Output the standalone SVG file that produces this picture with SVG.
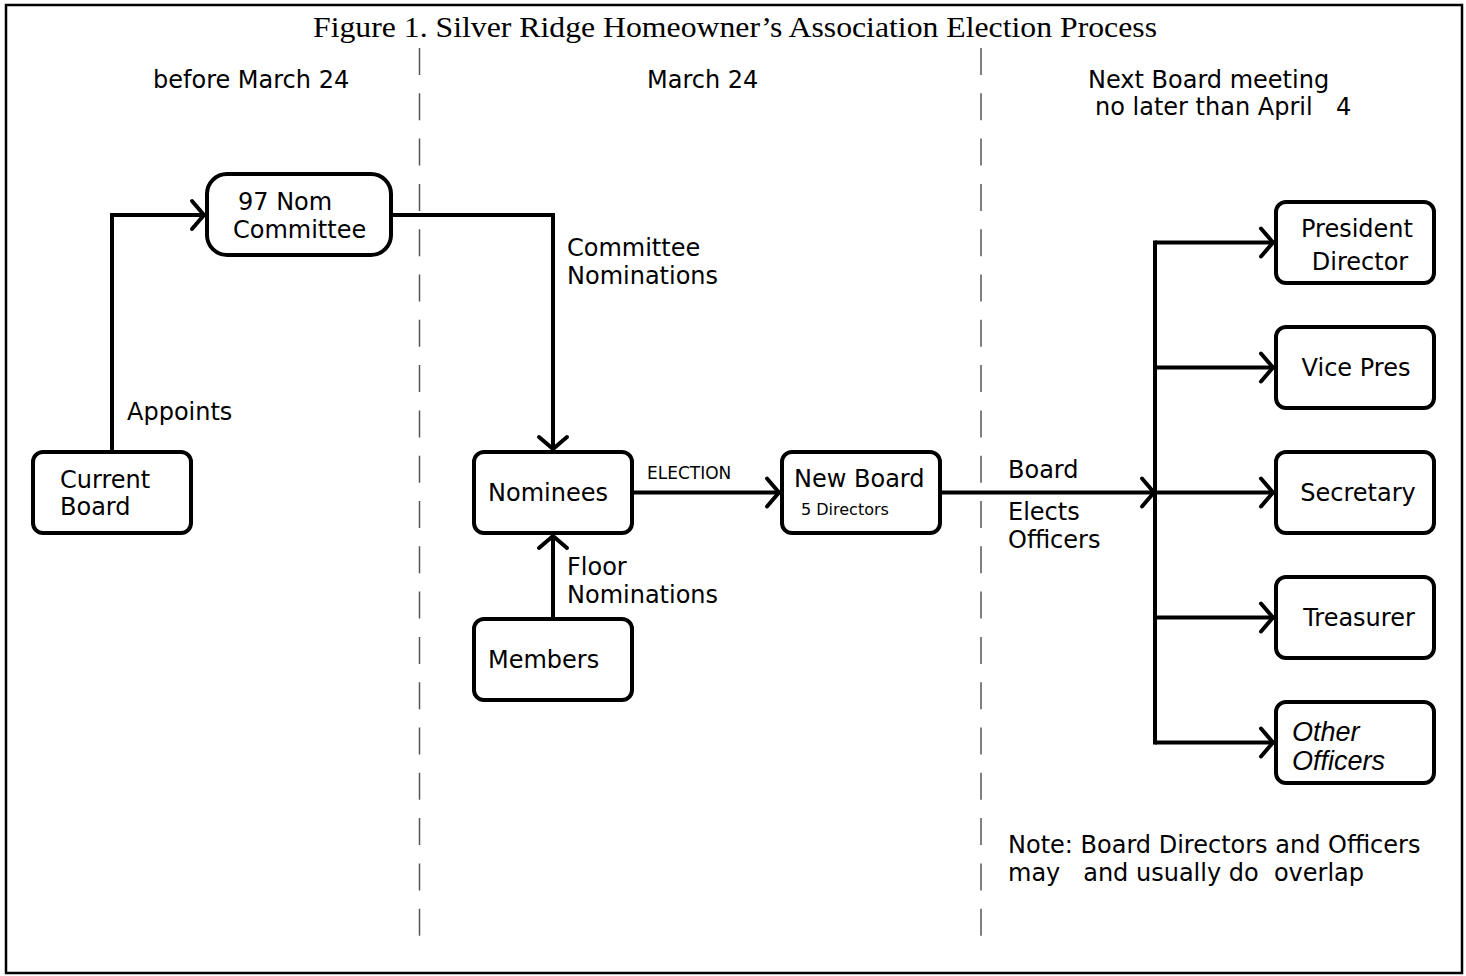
<svg xmlns="http://www.w3.org/2000/svg" width="1466" height="976" viewBox="0 0 1466 976">
<defs>
<style>
.t{font-family:"DejaVu Sans",Verdana,sans-serif;font-size:24px;fill:#000;white-space:pre}
.sm{font-size:17px}
.xs{font-size:16px}
.it{font-family:"Liberation Sans",Arial,sans-serif;font-style:italic;font-size:27px}
.title{font-family:"Liberation Serif","Times New Roman",serif;font-size:30px;fill:#000}
.box{fill:#fff;stroke:#000;stroke-width:4}
.c{fill:none;stroke:#000;stroke-width:4}
.dash{fill:none;stroke:#555;stroke-width:1.5;stroke-dasharray:27 18.3}
</style>
<marker id="arr" markerUnits="userSpaceOnUse" viewBox="-18 -18 22 36" refX="0" refY="0" markerWidth="22" markerHeight="36" orient="auto">
<path d="M-13,-14 L-1,0 L-13,14" fill="none" stroke="#000" stroke-width="4" stroke-linecap="round" stroke-linejoin="round"/>
</marker>
</defs>
<rect x="6" y="5" width="1456" height="968" fill="#fff" stroke="#000" stroke-width="2.5"/>
<text class="title" x="735" y="37" text-anchor="middle" textLength="844" lengthAdjust="spacingAndGlyphs">Figure 1. Silver Ridge Homeowner’s Association Election Process</text>
<g id="dividers">
<line class="dash" x1="419.5" y1="48" x2="419.5" y2="940"/>
<line class="dash" x1="981" y1="48" x2="981" y2="940"/>
</g>
<g id="headers">
<text class="t" x="153" y="88">before March 24</text>
<text class="t" x="647" y="88">March 24</text>
<text class="t" x="1088" y="88">Next Board meeting</text>
<text class="t" x="1095" y="115">no later than April<tspan x="1336">4</tspan></text>
</g>
<g id="connectors">
<path class="c" d="M112,450 V215 H205" marker-end="url(#arr)"/>
<path class="c" d="M393,215 H553 V450" marker-end="url(#arr)"/>
<path class="c" d="M553,617 V535" marker-end="url(#arr)"/>
<path class="c" d="M634,492.5 H780" marker-end="url(#arr)"/>
<path class="c" d="M942,492.5 H1155" marker-end="url(#arr)"/>
<path class="c" d="M1155,240.5 V744.5"/>
<path class="c" d="M1155,242.5 H1274" marker-end="url(#arr)"/>
<path class="c" d="M1155,367.5 H1274" marker-end="url(#arr)"/>
<path class="c" d="M1155,492.5 H1274" marker-end="url(#arr)"/>
<path class="c" d="M1155,617.5 H1274" marker-end="url(#arr)"/>
<path class="c" d="M1155,742.5 H1274" marker-end="url(#arr)"/>
<text class="t" x="127" y="420">Appoints</text>
<text class="t" x="567" y="256">Committee</text>
<text class="t" x="567" y="284">Nominations</text>
<text class="t" x="567" y="575">Floor</text>
<text class="t" x="567" y="603">Nominations</text>
<text class="t sm" x="647" y="479">ELECTION</text>
<text class="t" x="1008" y="478">Board</text>
<text class="t" x="1008" y="520">Elects</text>
<text class="t" x="1008" y="548">Officers</text>
</g>
<g id="current-board">
<rect class="box" x="33" y="452" width="158" height="81" rx="10"/>
<text class="t" x="60" y="488">Current</text>
<text class="t" x="60" y="515">Board</text>
</g>
<g id="nom-committee">
<rect class="box" x="207" y="174" width="184" height="81" rx="20"/>
<text class="t" x="238" y="210">97 Nom</text>
<text class="t" x="233" y="238">Committee</text>
</g>
<g id="nominees">
<rect class="box" x="474" y="452" width="158" height="81" rx="10"/>
<text class="t" x="488" y="501">Nominees</text>
</g>
<g id="members">
<rect class="box" x="474" y="619" width="158" height="81" rx="10"/>
<text class="t" x="488" y="668">Members</text>
</g>
<g id="new-board">
<rect class="box" x="782" y="452" width="158" height="81" rx="10"/>
<text class="t" x="794" y="487">New Board</text>
<text class="t xs" x="801" y="515">5 Directors</text>
</g>
<g id="president">
<rect class="box" x="1276" y="202" width="158" height="81" rx="10"/>
<text class="t" x="1357" y="237" text-anchor="middle">President</text>
<text class="t" x="1360" y="270" text-anchor="middle">Director</text>
</g>
<g id="vice-pres">
<rect class="box" x="1276" y="327" width="158" height="81" rx="10"/>
<text class="t" x="1356" y="376" text-anchor="middle">Vice Pres</text>
</g>
<g id="secretary">
<rect class="box" x="1276" y="452" width="158" height="81" rx="10"/>
<text class="t" x="1358" y="501" text-anchor="middle">Secretary</text>
</g>
<g id="treasurer">
<rect class="box" x="1276" y="577" width="158" height="81" rx="10"/>
<text class="t" x="1359" y="626" text-anchor="middle">Treasurer</text>
</g>
<g id="other-officers">
<rect class="box" x="1276" y="702" width="158" height="81" rx="10"/>
<text class="t it" x="1292" y="741">Other</text>
<text class="t it" x="1292" y="770">Officers</text>
</g>
<g id="note">
<text class="t" x="1008" y="853">Note: Board Directors and Officers</text>
<text class="t" x="1008" y="881">may   and usually do  overlap</text>
</g>
</svg>
